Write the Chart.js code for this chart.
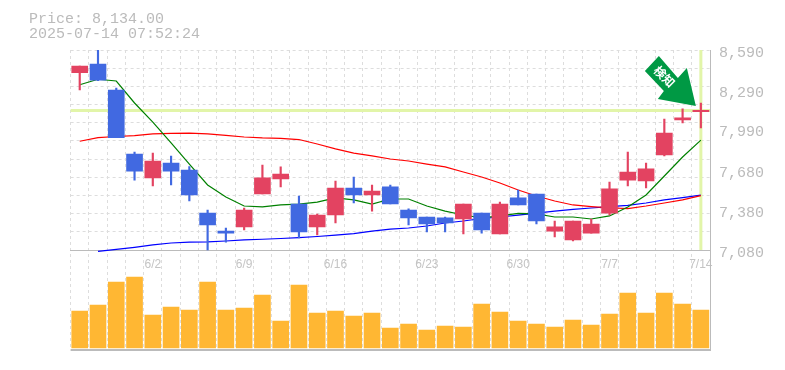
<!DOCTYPE html>
<html>
<head>
<meta charset="utf-8">
<script src="https://cdn.jsdelivr.net/npm/chart.js@4"></script>
<style>
body{margin:0;background:#fff;}
#wrap{position:relative;width:785px;height:370px;}
#head{position:absolute;left:29px;top:13px;font:15px/14.5px "Liberation Mono",monospace;color:#bbb;white-space:pre;}
</style>
</head>
<body>
<div id="wrap">
<canvas id="chart" width="785" height="370"></canvas>
<div id="head">Price: 8,134.00
2025-07-14 07:52:24</div>
</div>
<script>
const categories = ["5/27","5/28","5/29","5/30","6/2","6/3","6/4","6/5","6/6","6/9","6/10","6/11","6/12","6/13","6/16","6/17","6/18","6/19","6/20","6/23","6/24","6/25","6/26","6/27","6/30","7/1","7/2","7/3","7/4","7/7","7/8","7/9","7/10","7/11","7/14"];
const shownDates = ["6/2","6/9","6/16","6/23","6/30","7/7","7/14"];
const priceLabels = [8590,8290,7990,7680,7380,7080];

const opens  = [8419,8484,8288,7805,7624,7737,7684,7359,7223,7254,7503,7616,7427,7254,7344,7548,7495,7556,7382,7329,7322,7314,7359,7201,7473,7503,7223,7156,7208,7359,7608,7601,7797,8062,8125];
const closes = [8469,8363,7928,7676,7752,7676,7495,7269,7208,7382,7624,7654,7216,7344,7548,7495,7525,7427,7322,7276,7284,7427,7231,7427,7420,7299,7254,7299,7276,7541,7669,7692,7963,8077,8134];
const highs  = [8469,8640,8303,7820,7812,7790,7709,7382,7246,7397,7722,7707,7488,7352,7601,7631,7571,7571,7390,7329,7329,7427,7359,7442,7533,7503,7299,7299,7314,7593,7820,7737,8069,8145,8190];
const lows   = [8288,8358,7928,7608,7563,7571,7450,7080,7140,7231,7503,7556,7171,7193,7284,7435,7374,7427,7269,7216,7216,7201,7208,7201,7420,7276,7178,7148,7208,7344,7563,7548,7790,8039,8001];
const volumes = [3700,4300,6600,7100,3300,4100,3800,6600,3800,4000,5300,2700,6300,3500,3700,3200,3500,2000,2400,1800,2200,2100,4400,3600,2700,2400,2100,2800,2300,3400,5500,3500,5500,4400,3800];

const maGreen = [8328,8369,8356,8190,8046,7888,7729,7571,7480,7412,7405,7420,7427,7442,7473,7458,7427,7465,7465,7412,7374,7344,7322,7337,7356,7352,7329,7329,7314,7337,7405,7495,7639,7782,7910];
const maRed   = [7901,7929,7937,7943,7956,7960,7963,7956,7945,7933,7926,7923,7914,7880,7843,7812,7790,7767,7752,7729,7707,7669,7631,7586,7533,7488,7450,7420,7408,7399,7393,7412,7435,7458,7490];
const maBlue  = [null,7069,7084,7100,7118,7133,7140,7142,7148,7156,7161,7167,7174,7182,7193,7203,7223,7238,7246,7261,7284,7299,7318,7329,7344,7359,7374,7386,7397,7408,7417,7435,7458,7476,7495];

const currentPrice = 8134;
const priceTop = 8590, priceBottom = 7080;
const priceMin = 6325;

const upColor = "#e34361", downColor = "#4169e1";
const candleColor = (ctx)=> closes[ctx.dataIndex] >= opens[ctx.dataIndex] ? upColor : downColor;

/* grid has 11 rows in the price panel, labels sit on their own spacing */
const gridValues = [];
for(let i=0;i<=11;i++){
gridValues.push(priceTop-(priceTop-priceBottom)*i/11);
}

/* pale guide lines under the candles */
const guides = {
id:"guides",
beforeDatasetsDraw(chart){
const {ctx,chartArea,scales} = chart;
const y = scales.y.getPixelForValue(currentPrice);
const x = scales.x.getPixelForValue(categories.length-1);
ctx.save();
ctx.strokeStyle = "#e2f5a9";
ctx.lineWidth = 3;
ctx.beginPath();
ctx.moveTo(chartArea.left,y);
ctx.lineTo(chartArea.right,y);
ctx.moveTo(x,scales.y.getPixelForValue(priceTop));
ctx.lineTo(x,scales.y.getPixelForValue(priceBottom));
ctx.stroke();
ctx.restore();
}
};

/* green signal arrow pointing at the last candle */
const signal = {
id:"signal",
afterDatasetsDraw(chart){
const {ctx,scales} = chart;
const tipX = scales.x.getPixelForValue(categories.length-1)-5;
const tipY = scales.y.getPixelForValue(highs[highs.length-1])+3;
const shape = [[0,0],[-38,-7],[-32,-15],[-51,-35],[-37,-50],[-18,-28],[-9,-38]];
ctx.save();
ctx.translate(tipX,tipY);
ctx.fillStyle = "#009944";
ctx.beginPath();
shape.forEach((p,i)=> i ? ctx.lineTo(p[0],p[1]) : ctx.moveTo(p[0],p[1]));
ctx.closePath();
ctx.fill();
ctx.translate(-30,-28);
ctx.rotate(Math.PI/4);
ctx.fillStyle = "#fff";
ctx.font = "bold 12px 'Noto Sans CJK JP'";
ctx.textAlign = "center";
ctx.textBaseline = "middle";
ctx.fillText("検知",-2,0);
ctx.restore();
}
};

new Chart(document.getElementById("chart"),{
type:"bar",
data:{
labels:categories,
datasets:[
{
data:opens.map((o,i)=>[o,closes[i]]),
backgroundColor:candleColor,
barThickness:16,
grouped:false,
order:1
},
{
data:lows.map((l,i)=>[l,highs[i]]),
backgroundColor:candleColor,
barThickness:1.5,
grouped:false,
order:1
},
{
data:volumes,
yAxisID:"yV",
backgroundColor:"#ffb733",
barThickness:16,
grouped:false,
order:1
},
{type:"line",data:maGreen,borderColor:"#008000",borderWidth:1.2,pointRadius:0,tension:0,order:2},
{type:"line",data:maRed,borderColor:"#ff0000",borderWidth:1.2,pointRadius:0,tension:0,order:2},
{type:"line",data:maBlue,borderColor:"#0000ff",borderWidth:1.2,pointRadius:0,tension:0,order:2}
]
},
options:{
responsive:false,
animation:false,
layout:{padding:{left:70.6,top:50,bottom:20,right:0}},
plugins:{legend:{display:false},tooltip:{enabled:false}},
scales:{
x:{
position:{y:priceBottom},
grid:{color:"#dddddd",drawTicks:false,offset:true},
border:{color:"#bbbbbb",dash:[3,3]},
ticks:{
color:"#c4c4c4",
autoSkip:false,
maxRotation:0,
padding:7,
font:{family:"'Liberation Sans'",size:12},
callback:(v,i)=> shownDates.includes(categories[i]) ? categories[i] : ""
}
},
y:{
position:"right",
min:priceMin,
max:priceTop,
afterBuildTicks:(scale)=>{
const values = [...new Set(gridValues.concat(priceLabels,[priceMin]))];
scale.ticks = values.map(v=>({value:v}));
},
afterFit:(scale)=>{scale.width = 75;},
grid:{
drawTicks:false,
color:(ctx)=>{
const v = ctx.tick.value;
if(v===priceMin) return "#bbbbbb";
return gridValues.includes(v) ? "#dddddd" : "transparent";
},
lineWidth:(ctx)=> ctx.tick.value===priceMin ? 2 : 1
},
border:{color:"#bbbbbb",width:1,dash:(ctx)=> ctx.tick && ctx.tick.value===priceMin ? [] : [3,3]},
ticks:{
color:"#bbbbbb",
autoSkip:false,
padding:9,
labelOffset:3,
font:{family:"'Liberation Mono'",size:15},
callback:(v)=> priceLabels.includes(v) ? v.toLocaleString("en-US") : ""
}
},
yV:{
display:false,
min:-200,
max:29800
}
}
},
plugins:[guides,signal]
});
</script>
</body>
</html>
